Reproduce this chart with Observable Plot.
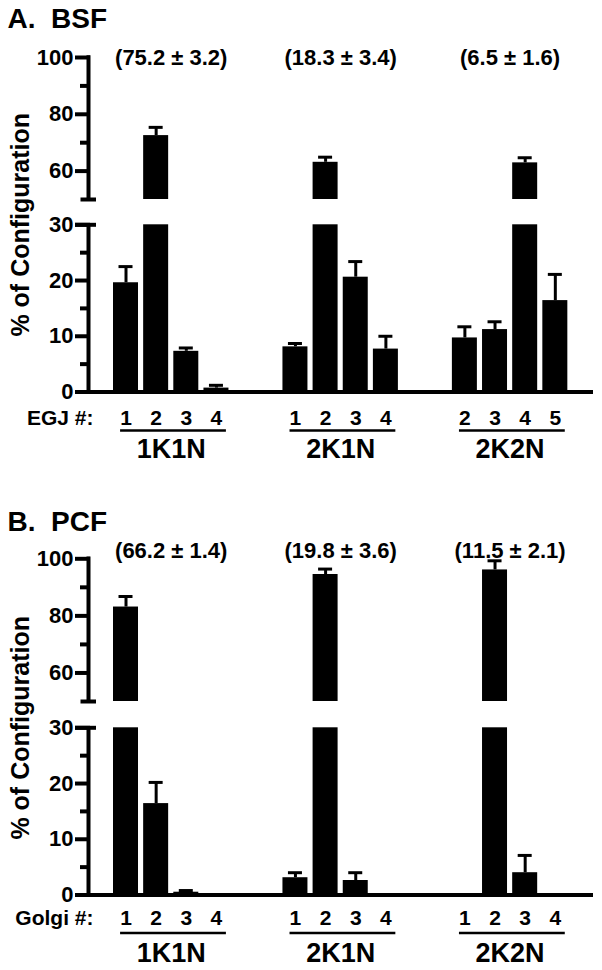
<!DOCTYPE html>
<html><head><meta charset="utf-8">
<script src="https://cdn.jsdelivr.net/npm/d3@7"></script>
<script src="https://cdn.jsdelivr.net/npm/@observablehq/plot@0.6"></script>
<style>
body{margin:0;background:#fff}
svg{display:block}
</style>
</head><body><div id="chart"></div>
<script>
// ---- data ----
const groups = ["1K1N", "2K1N", "2K2N"];
const perGroup = 4;

const bsfTitle = "A.  BSF";
const bsfPrefix = "EGJ #:";
const bsfLabels = ["1","2","3","4", "1","2","3","4", "2","3","4","5"];
const bsfMean   = [19.6, 72.5, 7.3, 0.7,  8.1, 63.1, 20.6, 7.7,  9.7, 11.2, 62.9, 16.4];
const bsfErr    = [2.9,  2.9,  0.6, 0.5,  0.6, 1.8,  2.8,  2.3,  2.0, 1.4,  1.8,  4.7];
const bsfTotals = ["(75.2 ± 3.2)", "(18.3 ± 3.4)", "(6.5 ± 1.6)"];

const pcfTitle = "B.  PCF";
const pcfPrefix = "Golgi #:";
const pcfLabels = ["1","2","3","4", "1","2","3","4", "1","2","3","4"];
const pcfMean   = [83.1, 16.4, 0.5, 0,  3.1, 94.5, 2.6, 0,  0, 96.1, 4.0, 0];
const pcfErr    = [3.7,  3.8,  0.3, 0,  0.9, 1.9,  1.4, 0,  0, 3.2,  3.1, 0];
const pcfTotals = ["(66.2 ± 1.4)", "(19.8 ± 3.6)", "(11.5 ± 2.1)"];

const yTitle = "% of Configuration";
const majorTicks = [0, 10, 20, 30, 60, 80, 100];
const minorTicks = [5, 15, 25, 70, 90];
const lowTop = 30, highBottom = 50, highTop = 100;

// ---- layout ----
const W = 602;
const groupStride = 5.62;
const xmin = -1.244, xmax = 15.506;
const left = 88, right = 593;
const ux = (right - left) / (xmax - xmin); // px per slot
const barW = 25 / ux, capW = 7 / ux;
const font = "'Liberation Sans', Arial, Helvetica, sans-serif";

function panel({height, yRange, title, titleDy, prefix, labels, mean, err, totals, totalsDy, labDy, lineDy, grpDy}) {
  const items = labels.map((lab, k) => {
    const g = Math.floor(k / perGroup), i = k % perGroup;
    return {label: lab, g, pos: g * groupStride + i, v: mean[k], e: err[k]};
  });
  const grp = groups.map((name, g) => ({
    name, total: totals[g],
    start: g * groupStride, end: g * groupStride + perGroup - 1,
    center: g * groupStride + (perGroup - 1) / 2
  }));
  const T = {fontFamily: font, fontWeight: "bold", fill: "black"};
  return Plot.plot({
    width: W, height,
    marginLeft: 0, marginRight: 0, marginTop: 0, marginBottom: 0,
    x: {type: "linear", domain: [xmin, xmax], range: [left, right], axis: null},
    y: {type: "linear", domain: [0, lowTop, highBottom, highTop], range: yRange, axis: null},
    style: {fontFamily: font, background: "white", overflow: "visible"},
    marks: [
      // bars (broken at the axis gap)
      Plot.rect(items.filter(d => d.v > 0), {x1: d => d.pos - barW / 2, x2: d => d.pos + barW / 2, y1: 0, y2: d => Math.min(d.v, lowTop), fill: "black"}),
      Plot.rect(items.filter(d => d.v > highBottom), {x1: d => d.pos - barW / 2, x2: d => d.pos + barW / 2, y1: highBottom, y2: d => d.v, fill: "black"}),
      // error bars
      Plot.ruleX(items.filter(d => d.e > 0), {x: "pos", y1: "v", y2: d => d.v + d.e, stroke: "black", strokeWidth: 3}),
      Plot.ruleY(items.filter(d => d.e > 0), {y: d => d.v + d.e, x1: d => d.pos - capW, x2: d => d.pos + capW, stroke: "black", strokeWidth: 3}),
      // y axis segments
      Plot.ruleX([xmin], {x: d => d, y1: 0, y2: lowTop, stroke: "black", strokeWidth: 4}),
      Plot.ruleX([xmin], {x: d => d, y1: highBottom, y2: highTop + 0.6, stroke: "black", strokeWidth: 4}),
      Plot.ruleY(majorTicks, {y: d => d, x1: xmin - 13 / ux, x2: xmin + 2 / ux, stroke: "black", strokeWidth: 4}),
      Plot.ruleY(minorTicks, {y: d => d, x1: xmin - 8 / ux, x2: xmin, stroke: "black", strokeWidth: 4}),
      Plot.ruleY([lowTop, highBottom], {y: d => d, x1: d => xmin - (d === lowTop ? 13 : 7.5) / ux, x2: xmin + 8 / ux, stroke: "black", strokeWidth: 4}),
      // baseline
      Plot.ruleY([0], {y: d => d, x1: xmin - 13 / ux, x2: xmax, stroke: "black", strokeWidth: 4}),
      Plot.text(majorTicks, {x: xmin, y: d => d, text: d => String(d), dx: -15, textAnchor: "end", lineAnchor: "middle", fontSize: 22, ...T}),
      // y title
      Plot.text([yTitle], {x: xmin, y: lowTop, text: d => d, dx: -68, rotate: -90, textAnchor: "middle", lineAnchor: "middle", fontSize: 25, ...T}),
      // panel title
      Plot.text([title], {x: xmin, y: highTop, text: d => d, dx: 7 - left, dy: titleDy, textAnchor: "start", lineAnchor: "bottom", fontSize: 28, ...T}),
      // group totals
      Plot.text(grp, {x: "center", y: highTop, text: "total", dy: totalsDy, textAnchor: "middle", lineAnchor: "middle", fontSize: 22, ...T}),
      // category labels
      Plot.text(items, {x: "pos", y: 0, text: "label", dy: labDy, textAnchor: "middle", lineAnchor: "middle", fontSize: 21, ...T}),
      Plot.text([prefix], {x: xmin, y: 0, text: d => d, dx: 5, dy: labDy, textAnchor: "end", lineAnchor: "middle", fontSize: 21, ...T}),
      Plot.ruleY(grp, {y: 0, x1: d => d.start - 0.18, x2: d => d.end + 0.33, dy: lineDy, stroke: "black", strokeWidth: 2.5}),
      Plot.text(grp, {x: "center", y: 0, text: "name", dy: grpDy, textAnchor: "middle", lineAnchor: "middle", fontSize: 27, ...T})
    ]
  });
}

const chart = document.getElementById("chart");
chart.append(panel({
  height: 470, yRange: [391.5, 224.3, 199, 57],
  title: bsfTitle, titleDy: -30, prefix: bsfPrefix,
  labels: bsfLabels, mean: bsfMean, err: bsfErr, totals: bsfTotals,
  totalsDy: 0, labDy: 26, lineDy: 38.5, grpDy: 57
}));
chart.append(panel({
  height: 500, yRange: [424.5, 257.3, 231, 88.3],
  title: pcfTitle, titleDy: -28, prefix: pcfPrefix,
  labels: pcfLabels, mean: pcfMean, err: pcfErr, totals: pcfTotals,
  totalsDy: -8, labDy: 23.5, lineDy: 38, grpDy: 58
}));
</script>
</body></html>
